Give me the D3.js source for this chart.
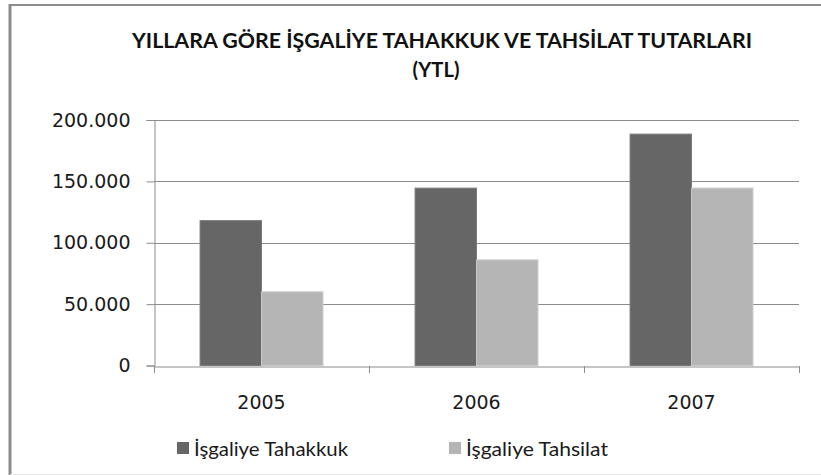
<!DOCTYPE html>
<html><head><meta charset="utf-8">
<script src="https://cdn.jsdelivr.net/npm/d3@7"></script>
<style>
body{margin:0;background:#fff;}
svg{display:block;}
</style></head>
<body>
<svg id="c" width="821" height="475"></svg>
<script>
const categories = ["2005", "2006", "2007"];
const seriesNames = ["İşgaliye Tahakkuk", "İşgaliye Tahsilat"];
const tahakkuk = [118000, 144500, 188500];
const tahsilat = [60000, 86000, 144500];
const yTicks = [0, 50000, 100000, 150000, 200000];
const titleLines = ["YILLARA GÖRE İŞGALİYE TAHAKKUK VE TAHSİLAT TUTARLARI", "(YTL)"];
const colors = ["#666666", "#b5b5b5"];

(function () {
const svg = d3.select("#c");
// outer frame (left + top strong, bottom faint)
svg.append("line").attr("x1", 9).attr("x2", 821).attr("y1", 5).attr("y2", 5)
  .attr("stroke", "#8c8c8c").attr("stroke-width", 2);
svg.append("line").attr("x1", 10).attr("x2", 10).attr("y1", 4).attr("y2", 475)
  .attr("stroke", "#8c8c8c").attr("stroke-width", 3);
svg.append("line").attr("x1", 10).attr("x2", 821).attr("y1", 474.5).attr("y2", 474.5)
  .attr("stroke", "#e6e6e6").attr("stroke-width", 1);

const pLeft = 154, pRight = 799, pTop = 120, pBottom = 365.5;
const x0 = d3.scaleBand().domain(categories).range([pLeft, pRight]).paddingInner(0).paddingOuter(0);
const bandW = x0.bandwidth();
const barW = bandW / 3.5;
const x1 = d3.scaleBand().domain([0, 1]).range([0, barW * 2]);
const y = d3.scaleLinear().domain([0, 200000]).range([pBottom, pTop]);

const fmt = v => d3.format(",")(v).replace(/,/g, ".");

// gridlines
svg.append("g").selectAll("line").data(yTicks.filter(d => d > 0)).join("line")
  .attr("x1", pLeft).attr("x2", pRight)
  .attr("y1", d => Math.round(y(d)) + 0.5).attr("y2", d => Math.round(y(d)) + 0.5)
  .attr("stroke", "#8c8c8c").attr("stroke-width", 1);

// y axis
const yAxis = svg.append("g").attr("transform", `translate(${pLeft + 0.5},0)`)
  .call(d3.axisLeft(y).tickValues(yTicks).tickFormat(fmt).tickSize(8).tickPadding(16));
yAxis.select(".domain").attr("stroke", "#8c8c8c");
yAxis.selectAll(".tick line").attr("stroke", "#8c8c8c");
yAxis.selectAll(".tick text").attr("font-family", "DejaVu Sans").attr("font-size", 19)
  .attr("fill", "#1a1a1a");

// bars
const data = categories.map((c, i) => ({ c, v: [tahakkuk[i], tahsilat[i]] }));
const g = svg.append("g");
data.forEach(d => {
  const start = x0(d.c) + (bandW - barW * 2) / 2;
  d.v.forEach((v, j) => {
    g.append("rect")
      .attr("x", start + x1(j)).attr("width", barW)
      .attr("y", y(v)).attr("height", y(0) - y(v))
      .attr("fill", colors[j])
      .attr("stroke", j === 0 ? "#7a7a7a" : "#c8c8c8").attr("stroke-width", 1);
  });
});

// x axis
const xAxis = svg.append("g").attr("transform", `translate(0,${Math.round(pBottom) + 0.5})`)
  .call(d3.axisBottom(x0).tickSize(0).tickPadding(0));
xAxis.select(".domain").attr("stroke", "#8c8c8c");
xAxis.selectAll(".tick text").attr("font-family", "DejaVu Sans").attr("font-size", 19)
  .attr("fill", "#1a1a1a").attr("dy", 0).attr("y", 42);
// category boundary ticks
svg.append("g").selectAll("line").data(categories.concat(["end"])).join("line")
  .attr("x1", (d, i) => Math.round(pLeft + i * bandW) + 0.5)
  .attr("x2", (d, i) => Math.round(pLeft + i * bandW) + 0.5)
  .attr("y1", Math.round(pBottom)).attr("y2", Math.round(pBottom) + 7)
  .attr("stroke", "#8c8c8c");

// title
svg.append("text").attr("x", 442).attr("y", 48).attr("text-anchor", "middle")
  .attr("font-family", "Lato").attr("font-weight", "bold").attr("font-size", 21)
  .attr("fill", "#111").attr("textLength", 620).attr("lengthAdjust", "spacingAndGlyphs")
  .text(titleLines[0]);
svg.append("text").attr("x", 436).attr("y", 77).attr("text-anchor", "middle")
  .attr("font-family", "Lato").attr("font-weight", "bold").attr("font-size", 21)
  .attr("fill", "#111").attr("textLength", 47).attr("lengthAdjust", "spacingAndGlyphs")
  .text(titleLines[1]);

// legend
const legX = [177, 449];
const legW = [171, 159];
seriesNames.forEach((n, i) => {
  svg.append("rect").attr("x", legX[i]).attr("y", 442).attr("width", 12).attr("height", 12)
    .attr("fill", colors[i]);
  svg.append("text").attr("x", legX[i] + 17).attr("y", 456)
    .attr("font-family", "Lato").attr("font-size", 20).attr("fill", "#1a1a1a")
    .attr("textLength", legW[i] - 17).attr("lengthAdjust", "spacingAndGlyphs")
    .text(n);
});
})();
</script>
</body></html>
